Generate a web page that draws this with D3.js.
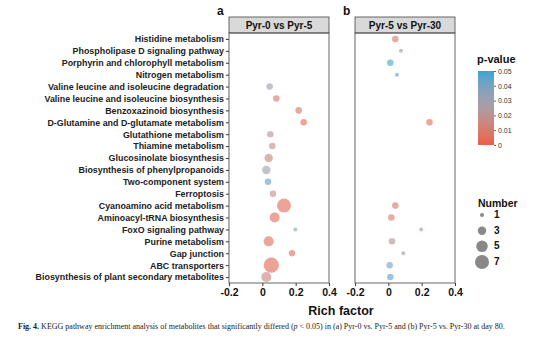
<!DOCTYPE html>
<html><head><meta charset="utf-8">
<script src="https://cdn.jsdelivr.net/npm/d3@7"></script>
<style>body{margin:0;background:#fff}svg{display:block}</style>
</head><body><svg id="c" width="554" height="341"></svg>
<script>
const pathways = ["Histidine metabolism","Phospholipase D signaling pathway","Porphyrin and chlorophyll metabolism","Nitrogen metabolism","Valine leucine and isoleucine degradation","Valine leucine and isoleucine biosynthesis","Benzoxazinoid biosynthesis","D-Glutamine and D-glutamate metabolism","Glutathione metabolism","Thiamine metabolism","Glucosinolate biosynthesis","Biosynthesis of phenylpropanoids","Two-component system","Ferroptosis","Cyanoamino acid metabolism","Aminoacyl-tRNA biosynthesis","FoxO signaling pathway","Purine metabolism","Gap junction","ABC transporters","Biosynthesis of plant secondary metabolites"];
const panels = ["Pyr-0 vs Pyr-5","Pyr-5 vs Pyr-30"];
const panelTags = ["a","b"];
// panel a
const aPath = ["Valine leucine and isoleucine degradation","Valine leucine and isoleucine biosynthesis","Benzoxazinoid biosynthesis","D-Glutamine and D-glutamate metabolism","Glutathione metabolism","Thiamine metabolism","Glucosinolate biosynthesis","Biosynthesis of phenylpropanoids","Two-component system","Ferroptosis","Cyanoamino acid metabolism","Aminoacyl-tRNA biosynthesis","FoxO signaling pathway","Purine metabolism","Gap junction","ABC transporters","Biosynthesis of plant secondary metabolites"];
const aRich = [0.044,0.084,0.218,0.248,0.048,0.060,0.038,0.024,0.034,0.064,0.130,0.074,0.198,0.038,0.178,0.054,0.024];
const aNum  = [2,2,2,2,2,2,3,3,2,2,7,4,1,4,2,8,4];
const aP    = [0.029,0.010,0.008,0.005,0.022,0.018,0.014,0.028,0.045,0.019,0.005,0.005,0.035,0.006,0.006,0.004,0.015];
// panel b
const bPath = ["Histidine metabolism","Phospholipase D signaling pathway","Porphyrin and chlorophyll metabolism","Nitrogen metabolism","D-Glutamine and D-glutamate metabolism","Cyanoamino acid metabolism","Aminoacyl-tRNA biosynthesis","FoxO signaling pathway","Purine metabolism","Gap junction","ABC transporters","Biosynthesis of plant secondary metabolites"];
const bRich = [0.042,0.076,0.012,0.052,0.247,0.042,0.018,0.197,0.022,0.090,0.008,0.012];
const bNum  = [2,1,2,1,2,2,2,1,2,1,2,2];
const bP    = [0.008,0.033,0.048,0.046,0.006,0.008,0.010,0.020,0.022,0.030,0.040,0.046];
const xTicks = [-0.2,0,0.2,0.4];
const pTicks = [0,0.01,0.02,0.03,0.04,0.05];
const numLegend = [1,3,5,7];

const svg = d3.select("#c");
const F = "'Liberation Sans', Arial, sans-serif";
const panelX = [[229,329],[355,455]];
const pTop = 33, pBottom = 283, stripTop = 17;
const y = d3.scalePoint().domain(pathways).range([pTop,pBottom]).padding(0.5);
const color = d3.scaleLinear().domain([0,0.025,0.05]).range(["#ea5540","#a8979f","#2aa2d2"]).interpolate(d3.interpolateLab);
const size = d3.scaleSqrt().domain([1,7]).range([2,7]);

const data = [
  aPath.map((p,i)=>({path:p,rich:aRich[i],num:aNum[i],p:aP[i]})),
  bPath.map((p,i)=>({path:p,rich:bRich[i],num:bNum[i],p:bP[i]}))
];

panels.forEach((name,k)=>{
  const [x0,x1] = panelX[k];
  const x = d3.scaleLinear().domain([-0.2,0.4]).range([x0,x1]);
  const g = svg.append("g");
  g.append("rect").attr("x",x0).attr("y",stripTop).attr("width",x1-x0).attr("height",pTop-stripTop)
    .attr("fill","#d9d9d9").attr("stroke","#444").attr("stroke-width",0.8);
  g.append("text").attr("x",(x0+x1)/2).attr("y",(stripTop+pTop)/2+3.6).attr("text-anchor","middle")
    .attr("font-family",F).attr("font-weight","bold").attr("font-size",10).attr("fill","#111").text(name);
  g.append("text").attr("x",x0-12).attr("y",15).attr("font-family",F).attr("font-weight","bold").attr("font-size",12).attr("fill","#111").text(panelTags[k]);
  const ax = g.append("g").attr("transform",`translate(0,${pBottom})`)
    .call(d3.axisBottom(x).tickValues(xTicks).tickSize(3).tickPadding(2).tickFormat(d=>d===0?"0":d.toFixed(1)));
  ax.select(".domain").remove();
  ax.selectAll("line").attr("stroke","#333");
  ax.selectAll("text").attr("font-family",F).attr("font-weight","bold").attr("font-size",10.5).attr("fill","#111").attr("dy","0.8em");
  if(k===0){
    const ay = g.append("g").attr("transform",`translate(${x0},0)`)
      .call(d3.axisLeft(y).tickSize(3).tickPadding(2));
    ay.select(".domain").remove();
    ay.selectAll("line").attr("stroke","#333");
    ay.selectAll("text").attr("font-family",F).attr("font-weight","bold").attr("font-size",8.9).attr("fill","#222");
  }
  g.append("g").selectAll("circle").data(data[k]).join("circle")
    .attr("cx",d=>x(d.rich)).attr("cy",d=>y(d.path)).attr("r",d=>size(d.num))
    .attr("fill",d=>color(d.p)).attr("fill-opacity",0.6);
  g.append("rect").attr("x",x0).attr("y",pTop).attr("width",x1-x0).attr("height",pBottom-pTop)
    .attr("fill","none").attr("stroke","#555").attr("stroke-width",0.9);
});

svg.append("text").attr("x",341).attr("y",315).attr("text-anchor","middle").attr("font-family",F)
  .attr("font-weight","bold").attr("font-size",12.5).attr("fill","#111").text("Rich factor");

const lg = svg.append("g");
lg.append("text").attr("x",477).attr("y",63).attr("font-family",F).attr("font-weight","bold").attr("font-size",11).attr("fill","#111").text("p-value");
const defs = svg.append("defs");
const grad = defs.append("linearGradient").attr("id","pg").attr("x1",0).attr("y1",1).attr("x2",0).attr("y2",0);
d3.range(0,1.0001,0.1).forEach(t=>grad.append("stop").attr("offset",t).attr("stop-color",color(t*0.05)).attr("stop-opacity",0.95));
const py = d3.scaleLinear().domain([0,0.05]).range([145,71]);
lg.append("rect").attr("x",478).attr("y",71).attr("width",16).attr("height",74).attr("fill","url(#pg)");
const pa = lg.append("g").attr("transform","translate(494,0)").call(d3.axisRight(py).tickValues(pTicks).tickSize(2).tickPadding(2).tickFormat(d=>d===0?"0":d.toFixed(2)));
pa.select(".domain").remove();
pa.selectAll("line").attr("stroke","#666");
pa.selectAll("text").attr("font-family",F).attr("font-size",7).attr("fill","#333");

lg.append("text").attr("x",478).attr("y",207).attr("font-family",F).attr("font-weight","bold").attr("font-size",10.5).attr("fill","#111").text("Number");
const ly = d3.scalePoint().domain(numLegend).range([215,262]);
lg.selectAll("circle.sl").data(numLegend).join("circle").attr("class","sl")
  .attr("cx",482).attr("cy",d=>ly(d)).attr("r",d=>size(d)).attr("fill","#888");
lg.selectAll("text.sl").data(numLegend).join("text").attr("class","sl")
  .attr("x",494).attr("y",d=>ly(d)+3).attr("font-family",F).attr("font-weight","bold").attr("font-size",10).attr("fill","#111").text(d=>d);

const cap = svg.append("text").attr("x",18).attr("y",329).attr("font-family","'Liberation Serif', 'Times New Roman', serif").attr("font-size",8).attr("fill","#222");
cap.append("tspan").attr("font-weight","bold").text("Fig. 4.");
cap.append("tspan").text(" KEGG pathway enrichment analysis of metabolites that significantly differed (");
cap.append("tspan").attr("font-style","italic").text("p");
cap.append("tspan").text(" < 0.05) in (a) Pyr-0 vs. Pyr-5 and (b) Pyr-5 vs. Pyr-30 at day 80.");
</script></body></html>
